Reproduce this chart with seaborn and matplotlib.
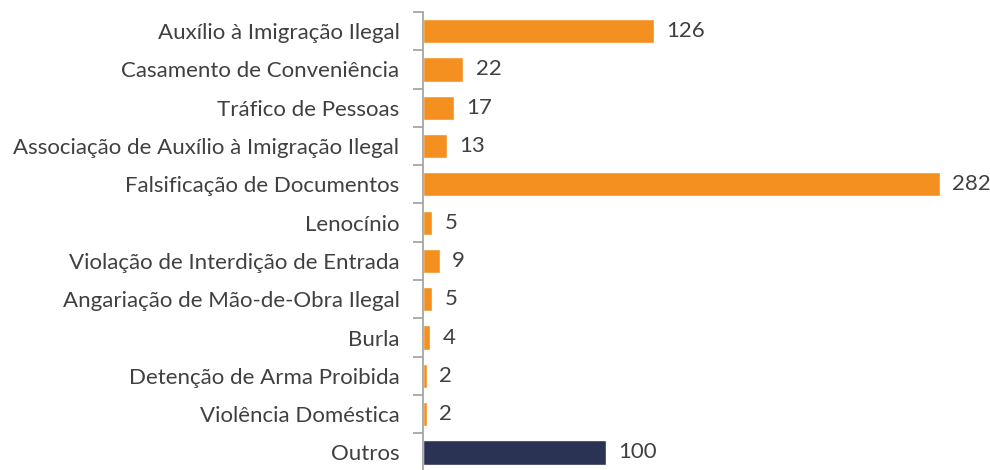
import numpy as np
import pandas as pd
import matplotlib.pyplot as plt
import seaborn as sns
from matplotlib.ticker import FixedLocator

# Data
categories = [
    "Auxílio à Imigração Ilegal",
    "Casamento de Conveniência",
    "Tráfico de Pessoas",
    "Associação de Auxílio à Imigração Ilegal",
    "Falsificação de Documentos",
    "Lenocínio",
    "Violação de Interdição de Entrada",
    "Angariação de Mão-de-Obra Ilegal",
    "Burla",
    "Detenção de Arma Proibida",
    "Violência Doméstica",
    "Outros",
]
values = [126, 22, 17, 13, 282, 5, 9, 5, 4, 2, 2, 100]
groups = ["main"] * 11 + ["other"]

df = pd.DataFrame({"crime": categories, "n": values, "group": groups})
palette = {"main": "#F39020", "other": "#2B3354"}
text_color = "#404040"

sns.set_style("white")
plt.rcParams['font.family'] = ['Lato', 'DejaVu Sans']

fig = plt.figure(figsize=(9.9, 4.7), dpi=100)
ax = fig.add_axes([0.4273, -0.0034, 0.555, 0.9779])

sns.barplot(data=df, y="crime", x="n", hue="group", palette=palette,
            dodge=False, legend=False, width=0.63, orient="h",
            saturation=1, ax=ax)

# value labels right of bars
for cont in ax.containers:
    ax.bar_label(cont, padding=9, fontsize=16, color=text_color)

ax.set_xlim(0, 300)
ax.set_ylim(11.5, -0.5)
ax.set_xlabel("")
ax.set_ylabel("")
ax.set_xticks([])

for s in ["top", "right", "bottom"]:
    ax.spines[s].set_visible(False)
ax.spines["left"].set_color("#A6A6A6")
ax.spines["left"].set_linewidth(1.3)

ax.tick_params(axis="y", which="major", left=False, pad=13.5, labelsize=16, labelcolor=text_color)
ax.yaxis.set_minor_locator(FixedLocator(np.arange(-0.5, 12, 1)))
ax.tick_params(axis="y", which="minor", left=True, length=7, width=1.3, color="#A6A6A6")

fig.savefig("out.png", dpi=100)
